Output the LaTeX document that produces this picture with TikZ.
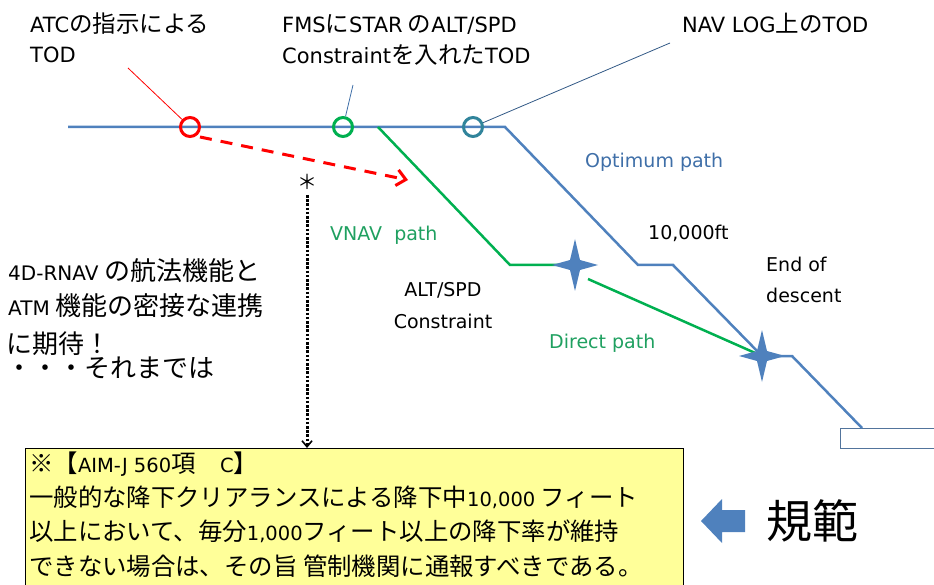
\documentclass[tikz,border=0pt]{standalone}
\usepackage{fontspec}
\setmainfont{Noto Sans CJK JP}
\newfontfamily\lt{DejaVu Sans}
\usetikzlibrary{arrows.meta}
\definecolor{pathblue}{HTML}{4F81BD}
\definecolor{pathgreen}{HTML}{00B050}
\definecolor{todred}{HTML}{FF0000}
\definecolor{todteal}{HTML}{31849B}
\definecolor{noteyellow}{HTML}{FFFF99}
\definecolor{txtgreen}{HTML}{1FA060}
\definecolor{txtblue}{HTML}{3F6FA8}
\newcommand{\ltt}[1]{{\lt\fontsize{21}{26}\selectfont #1}}
\newcommand{\ltn}[1]{{\lt\fontsize{20}{26}\selectfont #1}}
\newcommand{\ltb}[1]{{\lt\fontsize{19.5}{26}\selectfont #1}}
\tikzset{
  bluepath/.style={draw=pathblue, line width=2.5pt, line join=miter},
  greenpath/.style={draw=pathgreen, line width=2.5pt},
  todmark/.style={circle, draw=#1, line width=3pt, minimum size=19pt, inner sep=0pt, fill=none},
  pointer/.style={draw=#1, line width=0.8pt},
  lbl/.style={anchor=base west, inner sep=0pt, font=\lt\fontsize{19}{24}\selectfont},
  jlbl/.style={anchor=base west, inner sep=0pt, font=\fontsize{23.5}{26}\selectfont},
  nlbl/.style={anchor=base west, inner sep=0pt, font=\fontsize{26}{28}\selectfont},
  boxtxt/.style={anchor=base west, inner sep=0pt, font=\fontsize{24.4}{28}\selectfont},
}
\newcommand{\fourstar}[1]{%
  \fill[pathblue] (#1) ++(-23,0) -- ++(18,-5) -- ++(5,-21) -- ++(5,21) -- ++(18,5)
     -- ++(-18,5) -- ++(-5,21) -- ++(-5,-21) -- cycle;}
\begin{document}
\begin{tikzpicture}[x=1pt,y=-1pt]
\useasboundingbox (0,0) rectangle (934,585);
% path coordinates
\coordinate (b0) at (68,127);
\coordinate (b1) at (505,127);
\coordinate (b2) at (638,265);
\coordinate (b3) at (673,265);
\coordinate (b4) at (762,356);
\coordinate (b5) at (792,356);
\coordinate (b6) at (862,428);
\coordinate (g0) at (378,127);
\coordinate (g1) at (510,265);
\coordinate (s1) at (575,265);
\coordinate (g2) at (588,279);
% runway block
\draw[draw=txtblue!70!gray, line width=1pt, fill=white] (840,428) rectangle (940,448);
% optimum path
\draw[bluepath] (b0) -- (b1) -- (b2) -- (b3) -- (b4) -- (b5) -- (b6);
% VNAV path
\draw[greenpath] (g0) -- (g1) -- (s1);
\draw[greenpath] (g2) -- (b4);
% stars
\fourstar{s1}
\fourstar{b4}
% TOD markers
\node[todmark=todred] (tatc) at (190,127) {};
\node[todmark=pathgreen] (tfms) at (343,127) {};
\node[todmark=todteal] (tnav) at (473,127) {};
% labels top
\node[jlbl] (latc1) at (30,33) {\ltt{ATC}の指示による};
\node[jlbl] (latc2) at (30,63) {\ltt{TOD}};
\node[jlbl] (lfms1) at (282,33) {\ltt{FMS}に\ltt{STAR} の\ltt{ALT/SPD}};
\node[jlbl] (lfms2) at (282,64) {\ltt{Constraint}を入れた\ltt{TOD}};
\node[jlbl] (lnav) at (682,33) {\ltt{NAV LOG}上の\ltt{TOD}};
\coordinate (patc) at (128,68);
\coordinate (pfms) at (353,85);
\coordinate (pnav) at (670,43);
\draw[pointer=todred] (patc) -- (tatc);
\draw[pointer=txtblue] (pfms) -- (tfms);
\draw[pointer=txtblue!80!black] (pnav) -- (tnav);
% red dashed arrow
\coordinate (rd1) at (200,137);
\coordinate (rd2) at (408,180);
\draw[todred, line width=3pt, dash pattern=on 12pt off 9pt, -{Straight Barb[length=9pt,width=16pt,line width=3pt]}] (rd1) -- (rd2);
% path labels
\node[lbl, text=txtblue] (lopt) at (585,168) {Optimum path};
\node[lbl] (l10k) at (648,240) {10,000ft};
\node[lbl] (leod1) at (766,272) {End of};
\node[lbl] (leod2) at (766,302) {descent};
\node[lbl, text=txtgreen] (lvnav) at (330,241) {VNAV\ \ path};
\node[lbl, anchor=base] (lalt1) at (443,296) {ALT/SPD};
\node[lbl, anchor=base] (lalt2) at (443,328) {Constraint};
\node[lbl, text=txtgreen] (ldir) at (549,348) {Direct path};
% left note
\node[nlbl] (ln1) at (8,280) {\ltn{4D-RNAV} の航法機能と};
\node[nlbl] (ln2) at (8,316) {\ltn{ATM} 機能の密接な連携};
\node[nlbl] (ln3) at (6,353) {に期待！};
\node[nlbl] (ln4) at (6,377) {・・・それまでは};
% asterisk and dotted arrow
\node[font=\fontsize{20}{20}\selectfont, inner sep=0pt] (ast) at (307,182) {＊};
% note box
\node[draw=black, line width=0.8pt, fill=noteyellow, anchor=north west, minimum width=658pt, minimum height=150pt, inner sep=0pt] (box) at (25,448) {};
\draw[line width=3pt, dash pattern=on 2.6pt off 1.6pt, -{Straight Barb[length=6pt,width=10pt,line width=1.6pt]}] (ast.south |- 0,195) -- (box.north -| ast);
\node[boxtxt] (bt1) at (29,472) {※【\ltb{AIM-J 560}項　\ltb{C}】};
\node[boxtxt] (bt2) at (29,506) {一般的な降下クリアランスによる降下中\ltb{10,000} フィート};
\node[boxtxt] (bt3) at (29,540) {以上において、毎分\ltb{1,000}フィート以上の降下率が維持};
\node[boxtxt] (bt4) at (29,575) {できない場合は、その旨 管制機関に通報すべきである。};
% block arrow and norm label
\fill[pathblue] (745,510) -- (722,510) -- (722,499) -- (701,521) -- (722,543) -- (722,532) -- (745,532) -- cycle;
\node[anchor=west, inner sep=0pt, font=\fontsize{46}{46}\selectfont] (kihan) at (766,521) {規範};
\end{tikzpicture}
\end{document}
